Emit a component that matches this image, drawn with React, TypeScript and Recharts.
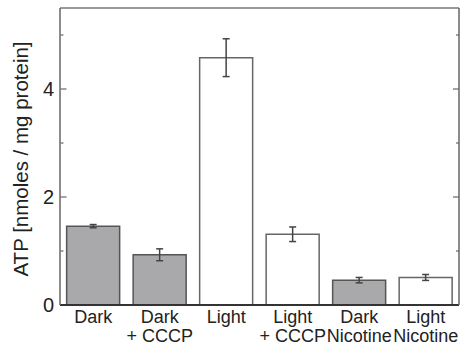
import { BarChart, Bar, Cell, XAxis, YAxis, ErrorBar } from "recharts"

const labelTop = ["Dark", "Dark", "Light", "Light", "Dark", "Light"]
const labelBottom = ["", "+ CCCP", "", "+ CCCP", "Nicotine", "Nicotine"]
const atp = [1.46, 0.93, 4.58, 1.31, 0.46, 0.51]
const atpErr = [0.03, 0.11, 0.35, 0.135, 0.05, 0.055]
const isDark = [true, true, false, false, true, false]
const yTicks = [0, 1, 2, 3, 4, 5]
const yLabelled = [0, 2, 4]

const data = atp.map((v, i) => ({
  name: `${labelTop[i]} ${labelBottom[i]}`.trim(),
  atp: v,
  err: atpErr[i],
  dark: isDark[i],
}))

const font = "'Liberation Sans', Arial, sans-serif"
const plotLeft = 60.5
const plotRight = 459

function LeftTick(props: any) {
  const { y, payload } = props
  const major = payload.value % 2 === 0
  return (
    <g>
      {payload.value !== 0 && (
        <line x1={plotLeft} x2={plotLeft + (major ? 6 : 3)} y1={y} y2={y} stroke="#666" strokeWidth={1.2} />
      )}
      {yLabelled.includes(payload.value) && (
        <text x={54} y={y} dy={7} textAnchor="end" fontSize={20} fill="#222" fontFamily={font}>
          {payload.value}
        </text>
      )}
    </g>
  )
}

function RightTick(props: any) {
  const { y, payload } = props
  const major = payload.value % 2 === 0
  if (payload.value === 0) return <g />
  return (
    <line x1={plotRight - (major ? 6 : 3)} x2={plotRight} y1={y} y2={y} stroke="#666" strokeWidth={1.2} />
  )
}

function BottomTick(props: any) {
  const { x, y, index } = props
  return (
    <g>
      <text x={x} y={y} dy={14} textAnchor="middle" fontSize={18} fill="#222" fontFamily={font}>
        {labelTop[index]}
      </text>
      {labelBottom[index] && (
        <text x={x} y={y} dy={33} textAnchor="middle" fontSize={18} fill="#222" fontFamily={font}>
          {labelBottom[index]}
        </text>
      )}
    </g>
  )
}

function YLabel() {
  return (
    <text
      x={28}
      y={159}
      transform="rotate(-90 28 159)"
      textAnchor="middle"
      fontSize={20.5}
      fill="#222"
      fontFamily={font}
    >
      ATP [nmoles / mg protein]
    </text>
  )
}

export default function App() {
  return (
    <div style={{ position: "absolute", left: 0, top: 0, width: 466, height: 348, background: "#fff" }}>
      <BarChart
        width={466}
        height={348}
        data={data}
        margin={{ top: 7, right: 6, bottom: 0, left: 0 }}
        barCategoryGap="10%"
      >
        <XAxis
          dataKey="name"
          height={43}
          tickLine={false}
          tickSize={0}
          tickMargin={4}
          tick={<BottomTick />}
          axisLine={{ stroke: "#333", strokeWidth: 2 }}
          interval={0}
        />
        <XAxis
          xAxisId="top"
          dataKey="name"
          orientation="top"
          height={1}
          tick={false}
          tickLine={false}
          axisLine={{ stroke: "#777", strokeWidth: 1.5 }}
        />
        <YAxis
          width={60}
          domain={[0, 5.5]}
          ticks={yTicks}
          tickLine={false}
          tickSize={0}
          tick={<LeftTick />}
          axisLine={{ stroke: "#666", strokeWidth: 1.5 }}
          allowDataOverflow
          label={<YLabel />}
        />
        <YAxis
          yAxisId="right"
          orientation="right"
          width={1}
          domain={[0, 5.5]}
          ticks={yTicks}
          tickLine={false}
          tickSize={0}
          tick={<RightTick />}
          axisLine={{ stroke: "#666", strokeWidth: 1.5 }}
          allowDataOverflow
        />
        <Bar dataKey="atp" isAnimationActive={false} strokeWidth={1.5}>
          {data.map((d, i) => (
            <Cell key={`c-${i}`} fill={d.dark ? "#a9a9ab" : "#ffffff"} stroke={d.dark ? "#555" : "#666"} />
          ))}
          <ErrorBar dataKey="err" width={3.5} stroke="#444" strokeWidth={1.5} direction="y" />
        </Bar>
      </BarChart>
    </div>
  )
}
